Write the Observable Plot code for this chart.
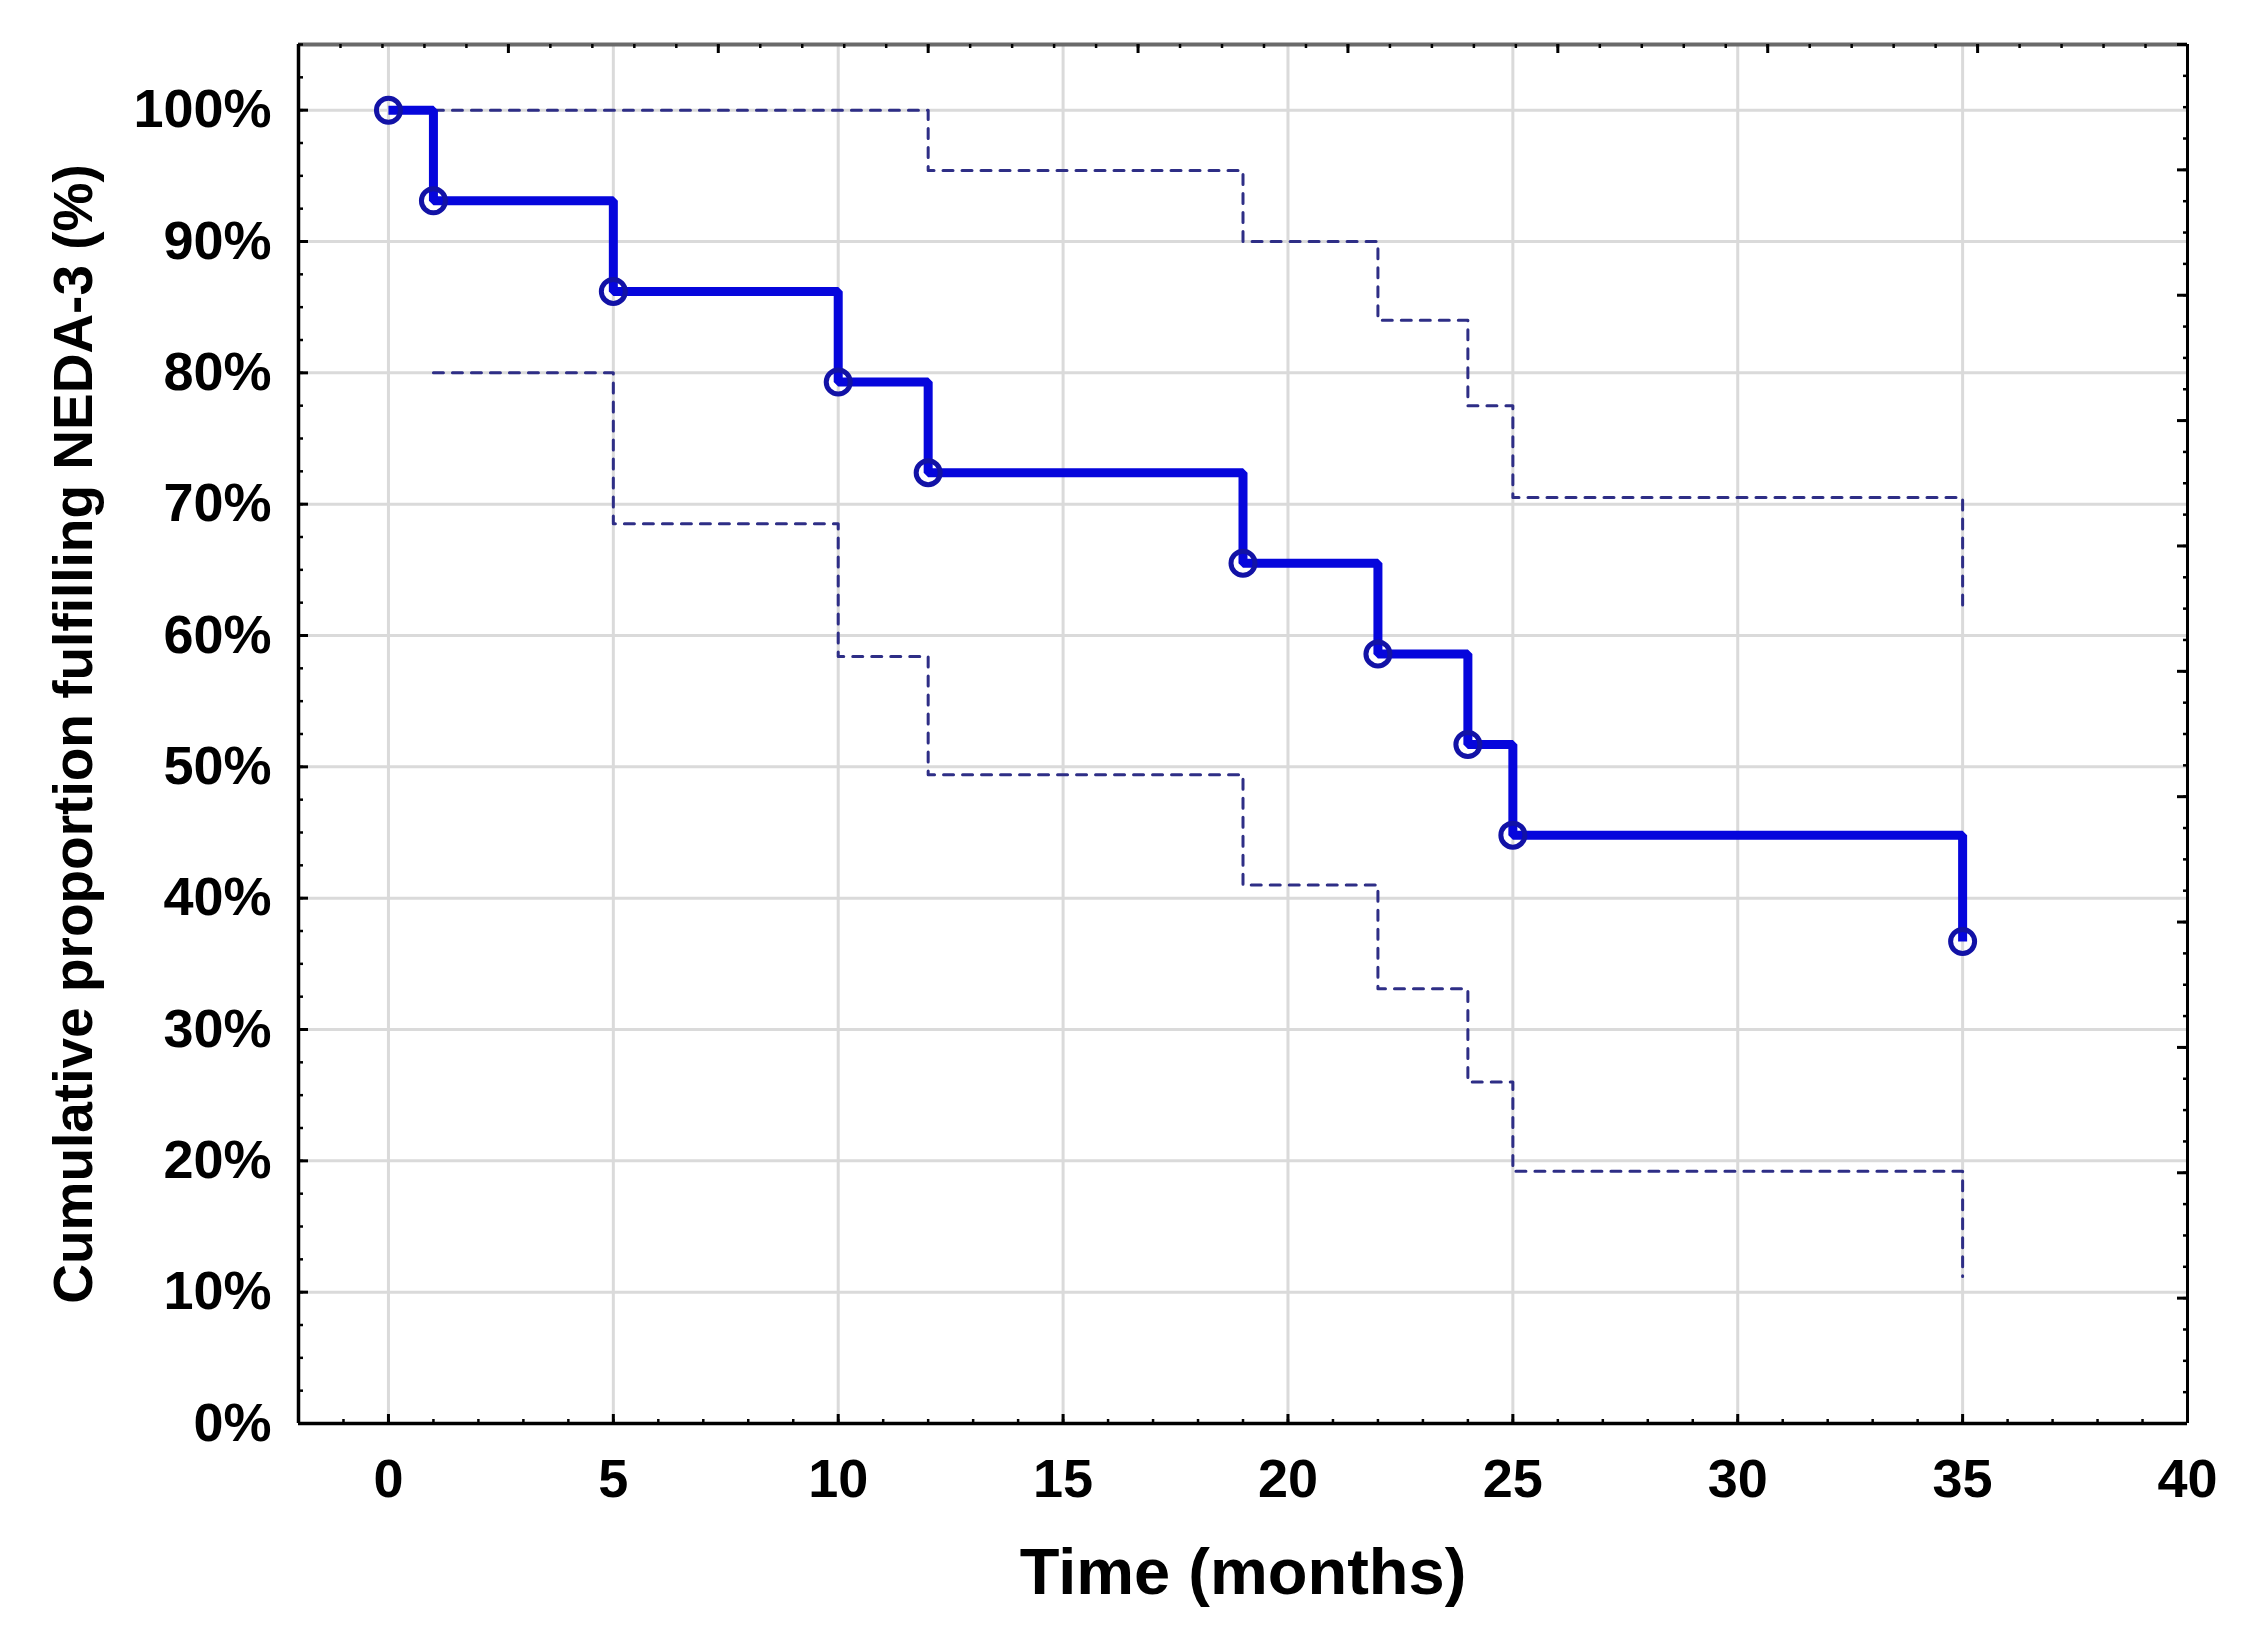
<!DOCTYPE html>
<html>
<head>
<meta charset="utf-8">
<script src="https://cdn.jsdelivr.net/npm/d3@7"></script>
<script src="https://cdn.jsdelivr.net/npm/@observablehq/plot@0.6"></script>
<style>
  html, body { margin: 0; padding: 0; background: white; }
</style>
</head>
<body>
<div id="chart"></div>
<script>
// Kaplan-Meier estimate (time in months, percent fulfilling NEDA-3)
const times = [0, 1, 5, 10, 12, 19, 22, 24, 25, 35];
const survival = [100, 93.1, 86.2, 79.3, 72.4, 65.5, 58.6, 51.7, 44.8, 36.7];

// Confidence bounds
const upperTimes = [1, 12, 19, 22, 24, 25, 35];
const upperCI = [100, 95.4, 90.0, 84.0, 77.5, 70.5, 62.1];
const lowerTimes = [1, 5, 10, 12, 19, 22, 24, 25, 35];
const lowerCI = [80.0, 68.5, 58.4, 49.4, 41.0, 33.1, 26.0, 19.2, 11.2];

// Axis ticks
const xTicks = [0, 5, 10, 15, 20, 25, 30, 35, 40];
const yTicks = [0, 10, 20, 30, 40, 50, 60, 70, 80, 90, 100];
const xDomain = [-2, 40];
const yDomain = [0, 105];

const W = 2255, H = 1626;
const mL = 298, mR = 68, mT = 44, mB = 203;
const plotW = W - mL - mR, plotH = H - mT - mB;

const km = times.map((t, i) => ({t, s: survival[i]}));
const up = upperTimes.map((t, i) => ({t, s: upperCI[i]}));
const lo = lowerTimes.map((t, i) => ({t, s: lowerCI[i]}));

// minor/major tick positions along the frame
const bottomMinor = d3.range(xDomain[0], xDomain[1] + 1, 1);
const leftMinor = d3.range(0, 105.01, 2.5);
const topAll = d3.range(46).map(k => ({v: xDomain[0] + k * (xDomain[1] - xDomain[0]) / 45, major: k % 5 === 0}));
const rightAll = d3.range(45).map(k => ({v: k * yDomain[1] / 44, major: k % 4 === 0}));

const chart = Plot.plot({
  width: W,
  height: H,
  marginLeft: mL,
  marginRight: mR,
  marginTop: mT,
  marginBottom: mB,
  x: {domain: xDomain},
  y: {domain: yDomain},
  style: {
    fontFamily: "'Liberation Sans', Arial, sans-serif",
    fontWeight: "bold",
    fontSize: "54px",
    background: "white",
    color: "black",
    overflow: "visible"
  },
  marks: [
    Plot.gridX(xTicks.filter(d => d < 40), {stroke: "#dadada", strokeWidth: 3, strokeOpacity: 1}),
    Plot.gridY(yTicks.filter(d => d > 0), {stroke: "#dadada", strokeWidth: 3, strokeOpacity: 1}),

    Plot.line(up, {x: "t", y: "s", curve: "step-after", stroke: "#2e2e86", strokeWidth: 3, strokeDasharray: "10,9"}),
    Plot.line(lo, {x: "t", y: "s", curve: "step-after", stroke: "#2e2e86", strokeWidth: 3, strokeDasharray: "10,9"}),

    Plot.line(km, {x: "t", y: "s", curve: "step-after", stroke: "#0606dc", strokeWidth: 9, strokeLinejoin: "miter", strokeLinecap: "butt"}),
    Plot.dot(km, {x: "t", y: "s", r: 12, stroke: "#1212a6", strokeWidth: 5, fill: "none"}),

    // frame
    Plot.ruleY([yDomain[1]], {stroke: "#6a6a6a", strokeWidth: 4}),
    Plot.ruleX([xDomain[1]], {stroke: "black", strokeWidth: 3}),
    Plot.ruleX([xDomain[0]], {stroke: "black", strokeWidth: 3.5}),
    Plot.ruleY([0], {stroke: "black", strokeWidth: 3.5}),

    // inward ticks: bottom
    Plot.ruleX(bottomMinor, {x: d => d, insetTop: plotH - 4, stroke: "black", strokeWidth: 2.5}),
    Plot.ruleX(xTicks.filter(d => d < 40), {x: d => d, insetTop: plotH - 9, stroke: "black", strokeWidth: 3}),
    // left
    Plot.ruleY(leftMinor, {y: d => d, insetRight: plotW - 5, stroke: "black", strokeWidth: 2.5}),
    Plot.ruleY(yTicks, {y: d => d, insetRight: plotW - 10, stroke: "black", strokeWidth: 3}),
    // top
    Plot.ruleX(topAll, {x: "v", insetBottom: plotH - 4, stroke: "black", strokeWidth: 2.5}),
    Plot.ruleX(topAll.filter(d => d.major), {x: "v", insetBottom: plotH - 9, stroke: "black", strokeWidth: 3}),
    // right
    Plot.ruleY(rightAll, {y: "v", insetLeft: plotW - 4, stroke: "black", strokeWidth: 2.5}),
    Plot.ruleY(rightAll.filter(d => d.major), {y: "v", insetLeft: plotW - 10, stroke: "black", strokeWidth: 3}),

    Plot.axisX({ticks: xTicks, tickSize: 0, tickPadding: 35, label: null, fontSize: 54, fontWeight: "bold"}),
    Plot.axisY({ticks: yTicks, tickSize: 0, tickPadding: 27, label: null, tickFormat: d => d + "%", fontSize: 54, fontWeight: "bold"}),

    Plot.text(["Time (months)"], {text: d => d, frameAnchor: "bottom", textAnchor: "middle", lineAnchor: "middle", dy: 150, fontSize: 65, fontWeight: "bold"}),
    Plot.text(["Cumulative proportion fulfilling NEDA-3 (%)"], {text: d => d, frameAnchor: "left", textAnchor: "middle", lineAnchor: "middle", rotate: -90, dx: -224, fontSize: 55, fontWeight: "bold"})
  ]
});

document.getElementById("chart").appendChild(chart);
</script>
</body>
</html>
